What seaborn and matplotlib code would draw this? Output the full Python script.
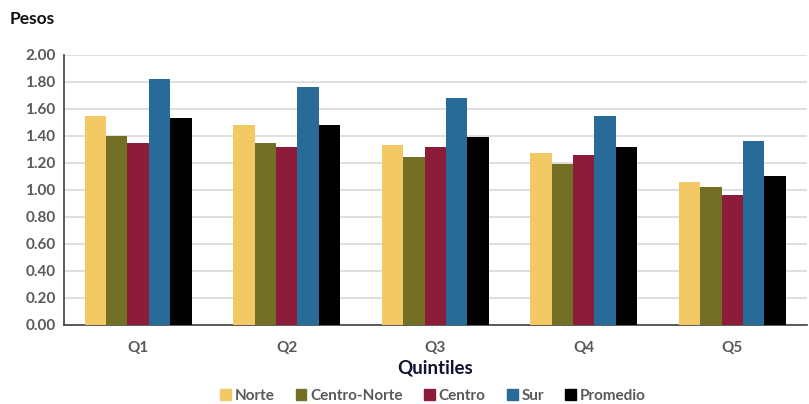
import pandas as pd
import matplotlib.pyplot as plt
import seaborn as sns

# Data
quintiles = ["Q1", "Q2", "Q3", "Q4", "Q5"]
regions = ["Norte", "Centro-Norte", "Centro", "Sur", "Promedio"]
norte = [1.55, 1.48, 1.33, 1.27, 1.06]
centro_norte = [1.40, 1.35, 1.24, 1.19, 1.02]
centro = [1.35, 1.32, 1.32, 1.26, 0.96]
sur = [1.82, 1.76, 1.68, 1.55, 1.36]
promedio = [1.53, 1.48, 1.39, 1.32, 1.10]
yticks = [0.0, 0.2, 0.4, 0.6, 0.8, 1.0, 1.2, 1.4, 1.6, 1.8, 2.0]

colors = ["#F2C964", "#736F24", "#8C1C3A", "#286A98", "#000000"]


def main():
    series = [norte, centro_norte, centro, sur, promedio]
    rows = []
    for region, vals in zip(regions, series):
        for q, v in zip(quintiles, vals):
            rows.append({"Quintil": q, "Region": region, "Valor": v})
    df = pd.DataFrame(rows)

    sns.set_theme(style="white")
    plt.rcParams["font.family"] = ["Lato", "DejaVu Sans"]

    fig = plt.figure(figsize=(8.09, 4.04), dpi=100)
    ax = fig.add_axes([0.079, 0.196, 0.918, 0.668])

    sns.barplot(data=df, x="Quintil", y="Valor", hue="Region",
                order=quintiles, hue_order=regions, palette=colors,
                saturation=1, width=0.72, linewidth=0, ax=ax, zorder=3)

    ax.set_ylim(0, 2.0)
    ax.set_xlim(-0.5, 4.5)
    ax.set_yticks(yticks)
    ax.set_yticklabels([f"{t:.2f}" for t in yticks])
    ax.yaxis.grid(True, color="#D9D9D9", linewidth=1.2, zorder=0)
    ax.set_axisbelow(True)

    for s in ["top", "right"]:
        ax.spines[s].set_visible(False)
    for s in ["left", "bottom"]:
        ax.spines[s].set_color("#404040")
        ax.spines[s].set_linewidth(1.2)

    ax.tick_params(axis="both", length=0, pad=6, labelsize=11,
                   labelcolor="#595959")
    ax.tick_params(axis="x", pad=12)
    for lab in ax.get_xticklabels() + ax.get_yticklabels():
        lab.set_fontweight("bold")

    ax.set_ylabel("")
    ax.set_xlabel("Quintiles", fontsize=13.5, fontweight="bold",
                  color="#111133", labelpad=3)
    fig.text(0.012, 0.952, "Pesos", fontsize=12.5, fontweight="bold",
             color="#111111", va="center", ha="left")

    ax.legend_.remove()
    handles = [plt.Rectangle((0, 0), 1, 1, color=c) for c in colors]
    fig.legend(handles, regions, loc="center", bbox_to_anchor=(0.535, 0.02),
               ncol=5, frameon=False, handlelength=0.7,
               handleheight=0.7, handletextpad=0.25, columnspacing=1.4,
               labelcolor="#595959",
               prop={"weight": "bold", "size": 11})

    fig.savefig("out.png", dpi=100)


if __name__ == "__main__":
    main()
